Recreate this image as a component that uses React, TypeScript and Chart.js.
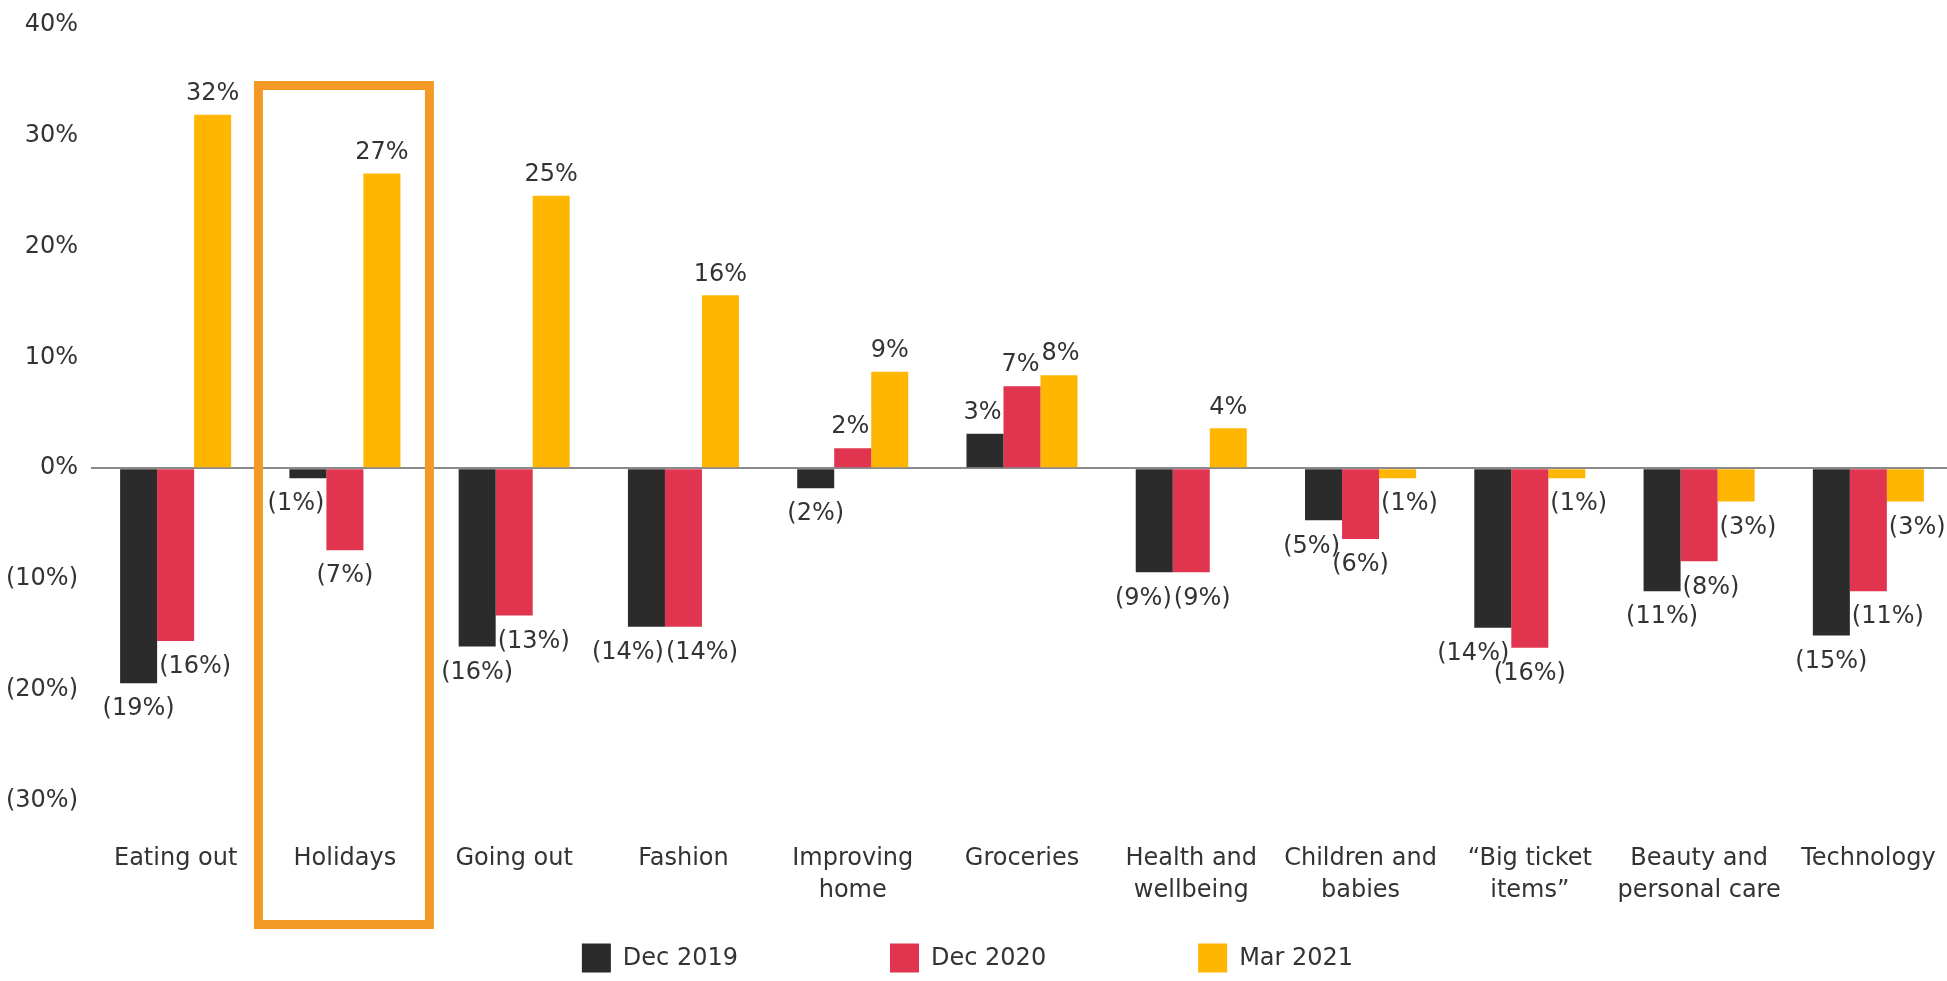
import React, { useEffect, useRef } from "react";
import { Chart, registerables } from "chart.js";

Chart.register(...registerables);

// ---------- data ----------
const categories: string[][] = [
  ["Eating out"],
  ["Holidays"],
  ["Going out"],
  ["Fashion"],
  ["Improving", "home"],
  ["Groceries"],
  ["Health and", "wellbeing"],
  ["Children and", "babies"],
  ["\u201CBig ticket", "items\u201D"],
  ["Beauty and", "personal care"],
  ["Technology"],
];
const seriesNames = ["Dec 2019", "Dec 2020", "Mar 2021"];
const dec2019 = [-19.4, -0.9, -16.1, -14.3, -1.8, 3.1, -9.4, -4.7, -14.4, -11.1, -15.1];
const dec2020 = [-15.6, -7.4, -13.3, -14.3, 1.8, 7.4, -9.4, -6.4, -16.2, -8.4, -11.1];
const mar2021 = [31.9, 26.6, 24.6, 15.6, 8.7, 8.4, 3.6, -0.9, -0.9, -3.0, -3.0];
const yTicks = [40, 30, 20, 10, 0, -10, -20, -30];
const highlightedCategory = "Holidays";

// ---------- style ----------
const FONT = "'DejaVu Sans', sans-serif";
const FONT_SIZE = 24;
const TEXT = "#333333";
const COLORS = ["#2b2b2b", "#e1344f", "#ffb600"];
const HIGHLIGHT = "#f39a26";
const VIEW_W = 1947;
const VIEW_H = 981;

const fmt = (v: number) => (v < 0 ? `(${Math.round(-v)}%)` : `${Math.round(v)}%`);

type Box = { cx: number; cy: number; w: number; h: number; text: string };
const lft = (b: Box) => b.cx - b.w / 2;
const rgt = (b: Box) => b.cx + b.w / 2;
const tp = (b: Box) => b.cy - b.h / 2;
const bt = (b: Box) => b.cy + b.h / 2;

const barLabelPlugin = {
  id: "barLabels",
  afterDatasetsDraw(chart: any) {
    const ctx = chart.ctx;
    ctx.save();
    ctx.font = `${FONT_SIZE}px ${FONT}`;
    ctx.fillStyle = TEXT;
    ctx.textAlign = "center";
    ctx.textBaseline = "middle";
    const n = chart.data.labels.length;
    const metas = chart.data.datasets.map((_: any, d: number) => chart.getDatasetMeta(d));
    const gap = 2;
    for (let i = 0; i < n; i++) {
      const bars = metas.map((m: any) => {
        const el = m.data[i];
        return {
          l: el.x - el.width / 2,
          r: el.x + el.width / 2,
          t: Math.min(el.y, el.base),
          b: Math.max(el.y, el.base),
        };
      });
      const placed: Box[] = [];
      metas.forEach((m: any, d: number) => {
        const el = m.data[i];
        const v = chart.data.datasets[d].data[i] as number;
        const text = fmt(v);
        const box: Box = {
          cx: el.x,
          cy: v >= 0 ? el.y - 21 : el.y + 26,
          w: ctx.measureText(text).width,
          h: FONT_SIZE * 0.75,
          text,
        };
        for (let iter = 0; iter < 4; iter++) {
          let moved = false;
          bars.forEach((bar: any, k: number) => {
            if (k === d) return;
            if (lft(box) < bar.r && rgt(box) > bar.l && tp(box) < bar.b && bt(box) > bar.t) {
              if ((bar.l + bar.r) / 2 < box.cx) box.cx = bar.r + gap + box.w / 2;
              else box.cx = bar.l - gap - box.w / 2;
              moved = true;
            }
          });
          placed.forEach((p) => {
            if (lft(box) < rgt(p) && rgt(box) > lft(p) && tp(box) < bt(p) && bt(box) > tp(p)) {
              if (box.cx >= p.cx) {
                const ov = rgt(p) - lft(box) + gap;
                p.cx -= ov / 2;
                box.cx += ov / 2;
              } else {
                const ov = rgt(box) - lft(p) + gap;
                p.cx += ov / 2;
                box.cx -= ov / 2;
              }
              moved = true;
            }
          });
          if (!moved) break;
        }
        placed.push(box);
      });
      placed.forEach((b) => ctx.fillText(b.text, b.cx, b.cy));
    }
    ctx.restore();
  },
};

const highlightPlugin = {
  id: "highlightBox",
  afterDraw(chart: any) {
    const idx = categories.findIndex((c) => c.join(" ") === highlightedCategory);
    if (idx < 0) return;
    const ctx = chart.ctx;
    const cx = chart.scales.x.getPixelForValue(idx);
    const lw = 9;
    const left = cx - 91;
    const right = cx + 89;
    const top = chart.chartArea.top + 56;
    const bottom = VIEW_H - 52;
    ctx.save();
    ctx.strokeStyle = HIGHLIGHT;
    ctx.lineWidth = lw;
    ctx.strokeRect(left + lw / 2, top + lw / 2, right - left - lw, bottom - top - lw);
    ctx.restore();
  },
};

const legendPlugin = {
  id: "customLegend",
  afterDraw(chart: any) {
    const ctx = chart.ctx;
    ctx.save();
    ctx.font = `${FONT_SIZE}px ${FONT}`;
    ctx.textBaseline = "middle";
    ctx.textAlign = "left";
    const box = 29;
    const textGap = 12;
    const itemGap = 152;
    const widths = seriesNames.map((s) => box + textGap + ctx.measureText(s).width);
    const total = widths.reduce((a, b) => a + b, 0) + itemGap * (widths.length - 1);
    let x = VIEW_W / 2 - total / 2 - 6;
    const cy = VIEW_H - 23;
    seriesNames.forEach((s, k) => {
      ctx.fillStyle = COLORS[k];
      ctx.fillRect(x, cy - box / 2, box, box);
      ctx.fillStyle = TEXT;
      ctx.fillText(s, x + box + textGap, cy + 1);
      x += widths[k] + itemGap;
    });
    ctx.restore();
  },
};

export default function App() {
  const canvasRef = useRef<HTMLCanvasElement | null>(null);

  useEffect(() => {
    if (!canvasRef.current) return;
    Chart.defaults.font.family = FONT;
    Chart.defaults.color = TEXT;
    const seriesData = [dec2019, dec2020, mar2021];
    const chart = new Chart(canvasRef.current, {
      type: "bar",
      data: {
        labels: categories,
        datasets: seriesNames.map((name, k) => ({
          label: name,
          data: seriesData[k],
          backgroundColor: COLORS[k],
          borderWidth: 0,
          barPercentage: 1,
          categoryPercentage: 0.656,
        })),
      },
      options: {
        responsive: true,
        maintainAspectRatio: false,
        animation: false,
        layout: { padding: { top: 0, bottom: 72, left: 0, right: 0 } },
        plugins: {
          legend: { display: false },
          tooltip: { enabled: false },
        },
        scales: {
          x: {
            grid: { display: false, drawTicks: true, tickLength: 40 },
            border: { display: false },
            ticks: {
              color: TEXT,
              font: { size: FONT_SIZE, lineHeight: 1.3 },
              padding: 3,
              maxRotation: 0,
              autoSkip: false,
            },
          },
          y: {
            min: Math.min(...yTicks),
            max: Math.max(...yTicks),
            grid: {
              color: (c: any) => (c.tick && c.tick.value === 0 ? "#8a8a8a" : "rgba(0,0,0,0)"),
              lineWidth: 2,
              drawTicks: false,
            },
            border: { display: false },
            ticks: {
              stepSize: 10,
              padding: 13,
              color: TEXT,
              font: { size: FONT_SIZE, lineHeight: 1.0 },
              callback: (v: any) => fmt(Number(v)),
            },
            afterFit: (s: any) => {
              s.width = 91;
            },
          },
        },
      },
      plugins: [barLabelPlugin, highlightPlugin, legendPlugin],
    });
    return () => chart.destroy();
  }, []);

  return (
    <div
      style={{
        position: "absolute",
        left: 0,
        top: 0,
        width: VIEW_W,
        height: VIEW_H,
        overflow: "hidden",
        background: "#fff",
      }}
    >
      <div style={{ position: "relative", width: 1953, height: VIEW_H }}>
        <canvas ref={canvasRef} />
      </div>
    </div>
  );
}
